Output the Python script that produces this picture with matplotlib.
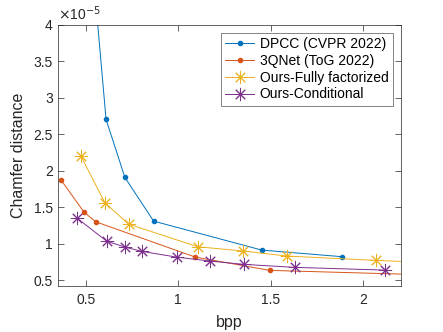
import matplotlib.pyplot as plt
from matplotlib.ticker import FormatStrFormatter

plt.rcParams['font.family'] = ['Liberation Sans', 'DejaVu Sans']

# Chamfer distance in units of 1e-5
dpcc_bpp = [0.52, 0.61, 0.712, 0.867, 1.452, 1.888]
dpcc_cd = [5.3, 2.70, 1.905, 1.307, 0.910, 0.819]

qnet_bpp = [0.367, 0.491, 0.554, 1.092, 1.495, 2.40]
qnet_cd = [1.869, 1.430, 1.298, 0.814, 0.632, 0.567]

ff_bpp = [0.475, 0.604, 0.732, 1.105, 1.351, 1.589, 2.070, 2.40]
ff_cd = [2.193, 1.558, 1.266, 0.956, 0.897, 0.828, 0.769, 0.733]

cond_bpp = [0.455, 0.613, 0.712, 0.804, 0.991, 1.171, 1.357, 1.632, 2.116]
cond_cd = [1.344, 1.033, 0.951, 0.892, 0.814, 0.760, 0.714, 0.673, 0.636]

colors = ['#0072BD', '#D95319', '#EDB120', '#7E2F8E']
star = (8, 2, 0)

fig = plt.figure(figsize=(4.43, 3.32), dpi=100)
ax = fig.add_axes([0.130, 0.139, 0.775, 0.787])

ax.plot(dpcc_bpp, dpcc_cd, color=colors[0], lw=0.7, marker='o', ms=3,
        label='DPCC (CVPR 2022)')
ax.plot(qnet_bpp, qnet_cd, color=colors[1], lw=0.7, marker='o', ms=3,
        label='3QNet (ToG 2022)')
ax.plot(ff_bpp, ff_cd, color=colors[2], lw=0.7, marker=star, ms=9.5, mew=0.7,
        label='Ours-Fully factorized')
ax.plot(cond_bpp, cond_cd, color=colors[3], lw=0.7, marker=star, ms=9.5, mew=0.7,
        label='Ours-Conditional')

ax.set_xlim(0.348, 2.204)
ax.set_ylim(0.42, 4)
ax.set_xticks([0.5, 1, 1.5, 2])
ax.set_yticks([0.5, 1, 1.5, 2, 2.5, 3, 3.5, 4])
ax.xaxis.set_major_formatter(FormatStrFormatter('%g'))
ax.yaxis.set_major_formatter(FormatStrFormatter('%g'))
ax.tick_params(direction='in', top=True, right=True, labelsize=10,
               colors='#262626', width=0.5, length=4)
ax.tick_params(axis='x', pad=5)
for s in ax.spines.values():
    s.set_color('#262626')
    s.set_linewidth(0.5)

ax.set_xlabel('bpp', fontsize=11.5, color='#262626', labelpad=6)
ax.set_ylabel('Chamfer distance', fontsize=11.5, color='#262626', labelpad=5)
ax.text(0, 1.005, r'$\times$10$^{-5}$', transform=ax.transAxes, fontsize=10,
        color='#262626', va='bottom', ha='left')

leg = ax.legend(loc='upper right', fontsize=10, frameon=True, fancybox=False,
                handlelength=2.1, borderpad=0.3, labelspacing=0.2,
                handletextpad=0.4, borderaxespad=0.6)
leg.get_frame().set_edgecolor('#262626')
leg.get_frame().set_linewidth(0.5)

fig.savefig('out.png', dpi=100)
